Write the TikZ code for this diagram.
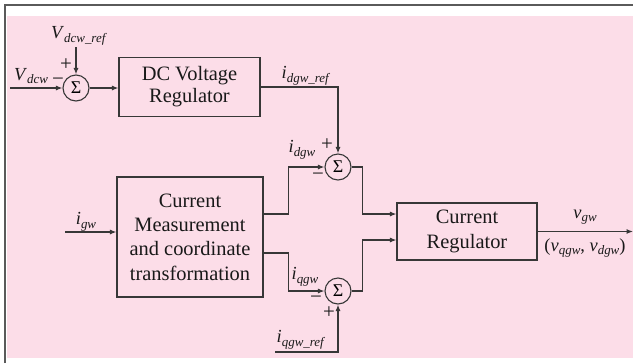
\documentclass[tikz,border=0pt]{standalone}
\usepackage{fontspec}
\setmainfont{Liberation Serif}
\usetikzlibrary{arrows.meta,calc}
\definecolor{pinkbg}{RGB}{252,221,232}
\definecolor{linec}{RGB}{55,55,55}
\definecolor{framec}{RGB}{90,90,90}
\newcommand\lbl[2]{\fontsize{18.5}{18.5}\selectfont\textit{#1}\raisebox{-3.5bp}{\fontsize{13}{13}\selectfont\textit{#2}}}
\begin{document}
\begin{tikzpicture}[x=1bp,y=-1bp,
  blk/.style={draw=linec, line width=1.1bp, align=center, inner sep=0pt, text=black!90, font=\fontsize{20.5}{23}\selectfont},
  sumc/.style={circle, draw=linec, line width=1.1bp, minimum size=26bp, inner sep=0pt, font=\fontsize{18}{18}\selectfont},
  arr/.style={draw=linec, line width=1.1bp, -{Latex[length=6.5bp,width=5bp]}},
  sgn/.style={inner sep=0pt, text=black!90, font=\fontsize{21}{21}\selectfont},
  lab/.style={inner sep=0pt, text=black!90}]
\useasboundingbox (0,0) rectangle (633,363);
\fill[white] (0,0) rectangle (633,363);
\fill[pinkbg] (7,16) rectangle (633,358);
\draw[framec, line width=2bp] (5,363) -- (5,5) -- (633,5);

% blocks
\node[sumc] (s1) at (76,88) {Σ};
\node[blk, minimum width=141bp, minimum height=59bp] (dc) at (189.5,87) {DC Voltage\\[-1bp]Regulator};
\node[sumc] (s2) at (338,167) {Σ};
\node[blk, minimum width=146bp, minimum height=120bp, font=\fontsize{20.5}{24.5}\selectfont] (cm) at (190,237) {Current\\Measurement\\and coordinate\\transformation};
\node[sumc] (s3) at (338,291) {Σ};
\node[blk, minimum width=140bp, minimum height=57bp, font=\fontsize{20.5}{25}\selectfont] (cr) at (467,231.5) {Current\\Regulator};

% free ends
\coordinate (vin) at (10,88);
\coordinate (vref) at (76,47);
\coordinate (igw) at (65,232);
\coordinate (qref) at (275,352);
\coordinate (out) at (633,231.5);

% connectors
\draw[arr] (vin) -- (s1.west);
\draw[arr] (vref) -- (s1.north);
\draw[arr] (s1.east) -- (s1.east -| dc.west);
\draw[arr] (dc.east) -| (s2.north);
\draw[arr] ($(cm.east)+(0,-23)$) -- ++(25,0) |- (s2.west);
\draw[arr] ($(cm.east)+(0,16)$) -- ++(25,0) |- (s3.west);
\draw[arr] (s2.east) -- ++(11,0) |- ($(cr.west)+(0,-17.5)$);
\draw[arr] (s3.east) -- ++(11,0) |- ($(cr.west)+(0,8.5)$);
\draw[arr] (cr.east) -- (out);
\draw[arr] (qref) -| (s3.south);
\draw[arr] (igw) -- (igw -| cm.west);

% labels
\node[lab] (l1) at (79,36) {\lbl{V}{dcw\_ref}};
\node[lab] (l2) at (31,76) {\lbl{V}{dcw}};
\node[sgn] (p1) at (66,65) {+};
\node[sgn] (m1) at (58,82) {−};
\node[lab] (l3) at (306,76) {\lbl{i}{dgw\_ref}};
\node[sgn] (p2) at (327,145) {+};
\node[lab] (l4) at (302,150) {\lbl{i}{dgw}};
\node[sgn] (m2) at (318,177) {−};
\node[lab] (l5) at (305,277) {\lbl{i}{qgw}};
\node[sgn] (m3) at (316,300) {−};
\node[sgn] (p3) at (329,313) {+};
\node[lab] (l6) at (301,340) {\lbl{i}{qgw\_ref}};
\node[lab] (l7) at (86,222) {\lbl{i}{gw}};
\node[lab] (l8) at (585,217) {\lbl{v}{gw}};
\node[lab] (l9) at (585,248) {\fontsize{18.5}{18.5}\selectfont(\lbl{v}{qgw}, \lbl{v}{dgw})};
\end{tikzpicture}
\end{document}
